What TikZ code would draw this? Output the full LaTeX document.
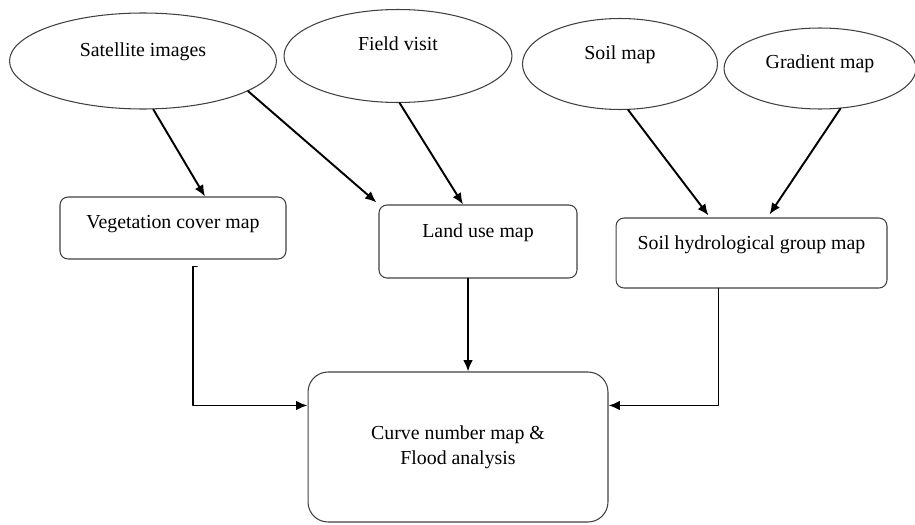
\documentclass[tikz,border=0pt]{standalone}
\usepackage{fontspec}
\setmainfont{Liberation Serif}
\usetikzlibrary{shapes.geometric,arrows.meta,calc}
\begin{document}
\begin{tikzpicture}[x=0.02cm, y=0.02cm, line cap=round, line join=round,
    font=\fontsize{11.3}{14}\selectfont,
    src/.style={ellipse, draw=black!75, line width=0.6pt, text height=8pt, text depth=#1},
    mapbox/.style={rectangle, rounded corners=0.16cm, draw=black!75, line width=0.6pt, text height=8pt, text depth=#1},
    arr/.style={-{Latex[length=6.5pt,width=5.5pt]}, line width=1.1pt}]
  \useasboundingbox (0,0) rectangle (915,-524);
  \node[src=12.7pt, minimum width=5.34cm, minimum height=1.92cm] (sat) at (143,-61) {Satellite images};
  \node[src=13.9pt, minimum width=4.56cm, minimum height=1.86cm] (fv) at (398,-56) {Field visit};
  \node[src=12.7pt, minimum width=3.9cm, minimum height=1.82cm] (soil) at (620,-64) {Soil map};
  \node[src=8.2pt, minimum width=3.84cm, minimum height=1.62cm] (grad) at (820,-68.5) {Gradient map};
  \node[mapbox=7.1pt, minimum width=4.52cm, minimum height=1.24cm] (veg) at (173,-228) {Vegetation cover map};
  \node[mapbox=12.1pt, minimum width=3.96cm, minimum height=1.46cm] (land) at (478,-241.5) {Land use map};
  \node[mapbox=11.6pt, minimum width=5.42cm, minimum height=1.4cm] (shg) at (751.5,-253) {Soil hydrological group map};
  \node[rectangle, rounded corners=0.4cm, draw=black!75, line width=0.6pt, align=center,
    minimum width=6cm, minimum height=3cm] (cnm) at (458,-447) {Curve number map \&\\Flood analysis};
  \draw[arr] (sat.-78) -- ($(veg.north)+(32,0)$);
  \draw[arr] (sat.-16) -- ($(land.north west)+(-2,2)$);
  \draw[arr] (fv.-88) -- ($(land.north)+(-15,0)$);
  \draw[arr] (soil.-80) -- ($(shg.north)+(-43,2)$);
  \draw[arr] (grad.-63) -- ($(shg.north)+(18,3)$);
  \draw[arr] ($(veg.south)+(24,-7)$) -- ++(-4,0) |- ($(cnm.north west)+(0,-34)$);
  \draw[arr] ($(land.south)+(-10,0)$) coordinate (lu) -- (lu |- cnm.north);
  \draw[arr] ($(shg.south)+(-33,0)$) |- ($(cnm.north east)+(0,-34)$);
\end{tikzpicture}
\end{document}
